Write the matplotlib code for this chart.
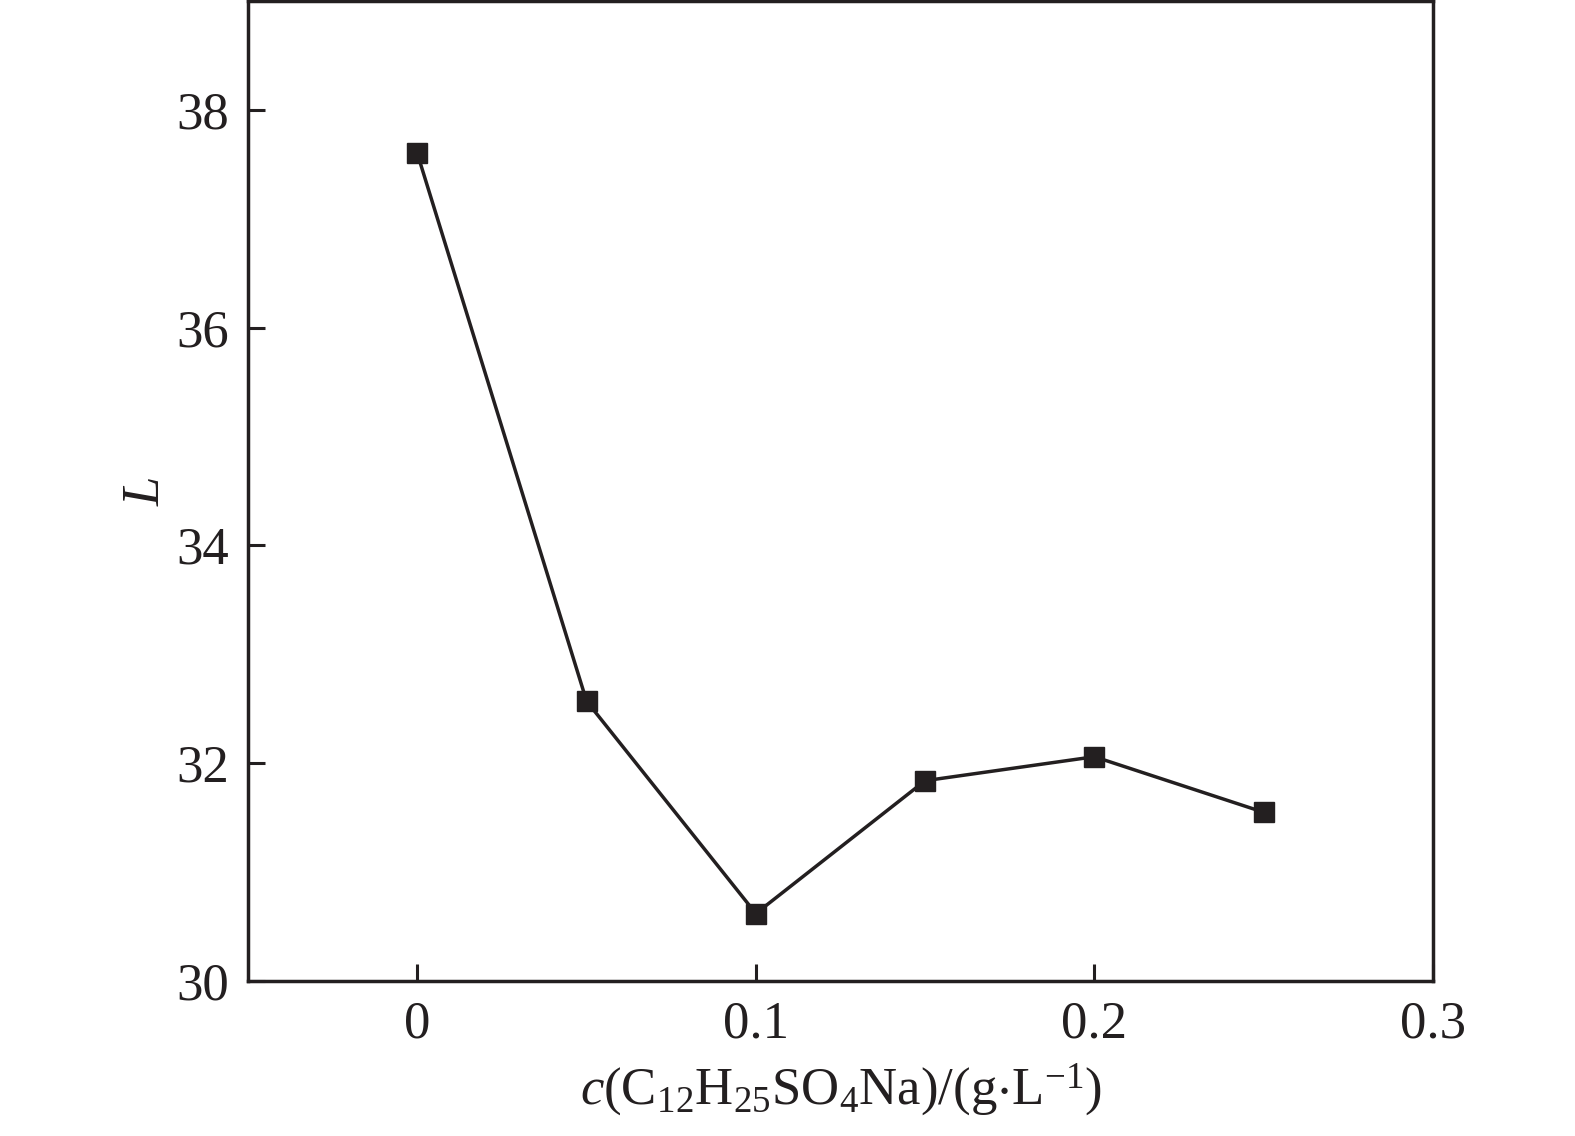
import matplotlib
matplotlib.use('Agg')
import matplotlib.pyplot as plt

# data
conc = [0, 0.05, 0.10, 0.15, 0.20, 0.25]
L_val = [37.6, 32.57, 30.62, 31.84, 32.06, 31.55]
x_ticks = [0, 0.1, 0.2, 0.3]
x_ticklabels = ['0', '0.1', '0.2', '0.3']
y_ticks = [30, 32, 34, 36, 38]

plt.rcParams['font.family'] = ['Liberation Serif', 'DejaVu Serif']
plt.rcParams['mathtext.fontset'] = 'custom'
plt.rcParams['mathtext.rm'] = 'Liberation Serif'
plt.rcParams['mathtext.it'] = 'Liberation Serif:italic'
plt.rcParams['mathtext.default'] = 'regular'

ink = '#231f20'

fig = plt.figure(figsize=(15.75, 11.36), dpi=100)
ax = fig.add_axes([0.1575, 0.1364, 0.7523, 0.8627])

ax.plot(conc, L_val, color=ink, lw=2.5, marker='s', ms=14.5,
        mfc=ink, mec=ink)

ax.set_xlim(-0.05, 0.3)
ax.set_ylim(30, 39)
ax.set_xticks(x_ticks)
ax.set_xticklabels(x_ticklabels)
ax.set_yticks(y_ticks)

ax.tick_params(direction='in', length=12, width=2.2, color=ink,
               labelsize=38, labelcolor=ink, pad=14)
for sp in ax.spines.values():
    sp.set_linewidth(2.5)
    sp.set_color(ink)

ax.set_xlabel(r'$\mathit{c}$(C$_{12}$H$_{25}$SO$_4$Na)/(g$\cdot$L$^{-1}$)',
              fontsize=38, color=ink, labelpad=9)
ax.set_ylabel(r'$\mathit{L}$', fontsize=38, color=ink, labelpad=4)

fig.savefig('out.png', dpi=100, facecolor='white')
